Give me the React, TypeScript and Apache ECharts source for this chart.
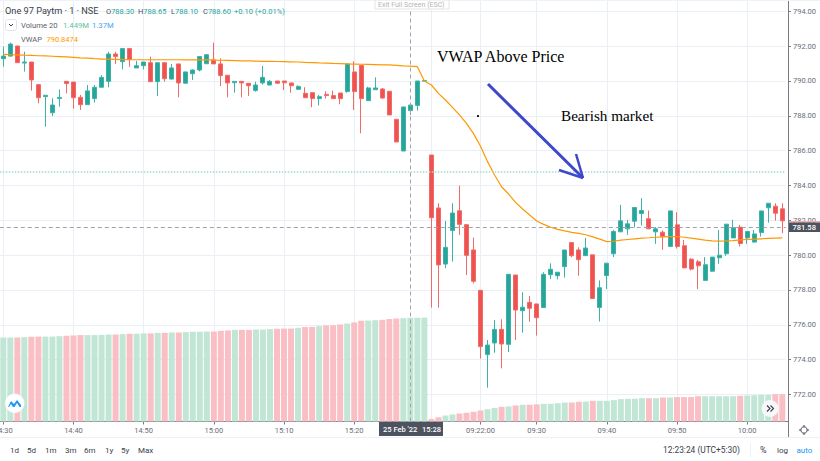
import React, { useEffect, useRef } from "react";
import * as echarts from "echarts";

const categories = [
  "14:30","14:31","14:32","14:33","14:34","14:35","14:36","14:37","14:38","14:39",
  "14:40","14:41","14:42","14:43","14:44","14:45","14:46","14:47","14:48","14:49",
  "14:50","14:51","14:52","14:53","14:54","14:55","14:56","14:57","14:58","14:59",
  "15:00","15:01","15:02","15:03","15:04","15:05","15:06","15:07","15:08","15:09",
  "15:10","15:11","15:12","15:13","15:14","15:15","15:16","15:17","15:18","15:19",
  "15:20","15:21","15:22","15:23","15:24","15:25","15:26","15:27","15:28","15:29","15:30",
  "09:15","09:16","09:17","09:18","09:19","09:20","09:21","09:22","09:23","09:24",
  "09:25","09:26","09:27","09:28","09:29","09:30","09:31","09:32","09:33","09:34",
  "09:35","09:36","09:37","09:38","09:39","09:40","09:41","09:42","09:43","09:44",
  "09:45","09:46","09:47","09:48","09:49","09:50","09:51","09:52","09:53","09:54",
  "09:55","09:56","09:57","09:58","09:59","10:00","10:01","10:02","10:03","10:04","10:05",
];

// open, close, low, high
const candles = [
  [791.28,791.43,790.82,791.97],[791.43,792.12,791.40,792.20],[792.01,791.05,791.05,792.01],[791.03,791.09,790.54,791.68],
  [791.09,790.06,789.45,791.09],[789.79,789.04,788.72,789.83],[789.10,789.18,787.38,789.18],[788.18,788.62,787.99,789.01],
  [788.99,789.06,788.53,789.52],[789.98,789.85,789.29,789.98],[789.94,789.04,788.41,789.94],[789.06,788.64,788.34,789.20],
  [788.64,789.43,788.64,789.77],[788.99,789.64,788.76,789.77],[789.64,790.21,789.64,790.34],[789.98,791.55,789.64,791.68],
  [791.55,791.40,790.98,791.68],[791.11,791.86,790.67,791.86],[791.86,791.24,790.82,791.86],[790.75,790.88,790.75,791.15],
  [790.88,791.09,790.67,791.09],[791.05,789.96,789.96,791.40],[789.96,791.05,789.14,791.05],[791.05,790.13,789.96,791.05],
  [790.11,790.75,790.10,790.98],[790.98,789.89,789.06,790.98],[789.87,790.52,789.87,790.52],[790.42,790.63,790.06,790.67],
  [790.63,791.40,790.55,791.40],[790.99,791.51,790.99,791.55],[791.21,790.98,790.98,792.20],[790.98,790.31,789.71,791.30],
  [790.33,789.89,789.06,790.33],[789.90,789.98,789.33,789.98],[789.98,789.89,789.06,789.98],[789.87,789.73,789.14,789.87],
  [789.45,789.77,789.39,789.96],[789.89,790.21,789.79,790.86],[789.77,789.98,789.75,790.06],[790.00,789.87,789.87,790.00],
  [790.00,789.90,789.48,790.00],[789.89,789.73,789.33,789.89],[789.52,789.69,789.50,789.75],[789.29,789.04,789.04,789.64],
  [789.33,788.99,788.49,789.33],[788.99,789.10,788.60,789.20],[789.23,789.16,788.99,789.41],[789.16,788.99,788.99,789.45],
  [789.31,788.99,788.66,789.31],[789.39,790.98,789.33,790.98],[790.52,789.39,788.34,791.13],[790.90,788.99,787.00,790.90],
  [788.87,789.60,788.87,789.67],[789.50,789.60,789.50,790.21],[789.54,789.02,788.99,789.60],[789.41,788.05,788.05,789.41],
  [787.80,786.50,786.50,787.80],[785.98,788.51,785.98,788.51],[788.30,788.62,788.05,788.62],[788.60,790.00,788.30,790.00],
  [789.99,790.02,789.99,790.02],
  [785.75,782.15,776.99,785.75],[782.71,779.44,776.99,782.98],[779.49,780.45,779.25,781.96],[781.41,782.42,779.63,782.98],
  [782.55,781.77,781.16,783.99],[781.75,779.99,778.86,781.75],[780.30,778.50,778.38,781.01],[777.98,774.75,774.06,777.98],
  [774.29,774.84,772.39,775.13],[774.96,775.74,774.40,776.28],[775.74,774.90,773.50,776.32],[774.88,778.90,774.44,778.90],
  [778.86,776.85,775.13,778.86],[776.81,777.01,775.55,777.87],[777.29,776.95,776.18,777.66],[777.20,776.41,775.38,777.20],
  [776.99,778.90,776.99,779.02],[778.88,779.19,778.63,779.53],[778.82,779.02,778.61,779.02],[779.34,780.30,778.71,780.30],
  [780.72,779.97,779.88,780.72],[780.30,779.74,778.82,780.45],[779.97,780.41,779.97,780.99],[780.02,777.51,777.51,780.02],
  [777.00,778.13,776.19,778.55],[778.83,779.54,778.05,779.54],[780.08,781.36,779.89,781.45],[781.34,781.97,781.34,782.89],
  [781.51,781.80,781.17,782.03],[781.95,782.74,781.59,782.74],[782.39,782.56,781.70,783.27],[782.09,781.51,781.51,782.56],
  [781.34,781.51,780.65,781.61],[781.32,781.07,780.31,781.42],[780.50,782.54,780.50,782.54],[781.74,780.50,780.38,782.47],
  [780.54,779.27,779.25,780.88],[779.77,779.20,779.12,779.83],[779.62,779.39,778.05,779.73],[778.55,779.45,778.55,779.89],
  [779.08,779.89,779.04,779.89],[779.85,780.00,779.50,781.45],[780.08,781.78,779.96,781.78],[780.99,781.57,780.99,782.03],
  [781.61,780.67,780.50,781.74],[780.99,781.36,780.65,781.36],[780.75,781.22,780.73,781.45],[781.30,782.54,781.07,782.54],
  [782.72,782.98,781.87,782.98],[782.81,782.41,781.99,782.98],[782.66,781.97,781.26,782.98],
];

// in millions
const volumes = [
  4.51,4.51,4.51,4.53,4.55,4.56,4.56,4.56,4.58,4.60,4.62,4.64,4.64,4.64,4.65,4.67,4.67,4.69,4.71,4.71,
  4.73,4.73,4.76,4.76,4.78,4.78,4.80,4.82,4.82,4.83,4.83,4.87,4.89,4.92,4.92,4.92,4.94,4.94,4.96,4.98,
  4.99,4.99,5.03,5.07,5.08,5.12,5.16,5.17,5.21,5.26,5.32,5.41,5.42,5.44,5.46,5.50,5.53,5.55,5.57,5.57,5.58,
  0.14,0.23,0.32,0.38,0.43,0.47,0.52,0.59,0.66,0.73,0.79,0.81,0.86,0.90,0.90,0.92,0.95,0.95,0.98,1.02,
  1.02,1.06,1.07,1.11,1.11,1.11,1.15,1.20,1.22,1.22,1.25,1.25,1.25,1.29,1.29,1.31,1.31,1.31,1.36,1.36,
  1.36,1.36,1.36,1.36,1.38,1.40,1.41,1.43,1.43,1.47,1.47,
];

const vwap = [
  791.53,791.51,791.50,791.48,791.47,791.45,791.44,791.42,791.40,791.38,791.36,791.33,791.31,791.28,791.26,791.25,
  791.24,791.23,791.22,791.22,791.22,791.22,791.22,791.22,791.22,791.22,791.21,791.21,791.21,791.21,791.20,791.19,
  791.18,791.17,791.16,791.15,791.14,791.13,791.13,791.12,791.11,791.10,791.09,791.07,791.06,791.04,791.03,791.01,
  791.00,790.98,790.97,790.96,790.95,790.94,790.93,790.92,790.90,790.87,790.85,790.82,790.00,
  789.77,789.29,788.91,788.49,788.05,787.57,786.98,786.25,785.37,784.60,783.93,783.51,783.03,782.65,782.31,781.96,
  781.77,781.60,781.48,781.39,781.31,781.25,781.17,781.05,780.92,780.78,780.80,780.86,780.90,780.94,780.98,781.00,
  781.03,781.05,781.07,781.07,781.03,780.98,780.92,780.86,780.82,780.81,780.82,780.84,780.88,780.90,780.92,780.94,
  780.96,780.98,780.99,
];

const priceTicks = [772,774,776,778,780,782,784,786,788,790,792,794];
const timeLabels = ["14:30","14:40","14:50","15:00","15:10","15:20","09:22","09:30","09:40","09:50","10:00"];
const sessionStart = "09:15";
const crosshairTime = "15:28";
const crosshairPrice = 781.58;
const priorLevel = 784.78;

const rangeButtons: [string, number][] = [["1d",10],["5d",27],["1m",45],["3m",65],["6m",84],["1y",105],["5y",121],["Max",138]];

const GREEN = "#26a69a";
const RED = "#ef5350";
const FONT = "Roboto";
const SERIF = "'Liberation Serif'";

function txt(x: number, y: number, text: string, fontSize: number, fill: string, extra: any = {}) {
  return { type: "text", x, y, z: 100, silent: true,
    style: { text, fontSize, fill, fontFamily: FONT, verticalAlign: "middle", ...extra } };
}
function seg(x1: number, y1: number, x2: number, y2: number, stroke: string, lineWidth = 1, z = 90) {
  return { type: "line", z, silent: true, shape: { x1, y1, x2, y2 }, style: { stroke, lineWidth } };
}

export default function App() {
  const ref = useRef<HTMLDivElement>(null);
  useEffect(() => {
    const chart = echarts.init(ref.current!, undefined, { renderer: "svg" });
    const showTick = (_: number, v: string) => timeLabels.includes(v) || v === sessionStart;
    const ohlcRich = {
      a: { fontSize: 7.5, fill: "#4c525e", fontFamily: FONT },
      b: { fontSize: 7.5, fill: GREEN, fontFamily: FONT },
    };
    const ohlc = (x: number, k: string, v: string) => ({
      type: "text", x, y: 11, z: 100, silent: true,
      style: { text: `{a|${k}}{b|${v}}`, rich: ohlcRich, verticalAlign: "middle" },
    });
    chart.setOption({
      animation: false,
      backgroundColor: "#fff",
      grid: { left: -0.2, top: 0, width: 786, height: 421.5, containLabel: false, outerBoundsMode: "none" },
      xAxis: {
        type: "category",
        data: categories,
        boundaryGap: true,
        axisLine: { lineStyle: { color: "#787b86", width: 1 } },
        axisTick: { show: true, interval: showTick, alignWithLabel: true, length: 3, lineStyle: { color: "#787b86" } },
        axisLabel: {
          interval: (_: number, v: string) => timeLabels.includes(v),
          formatter: (v: string) => (v === "09:22" ? "09:22:00" : v),
          fontSize: 7.5, color: "#6a6d78", fontFamily: FONT, margin: 5, hideOverlap: false,
        },
        splitLine: { show: true, interval: showTick, alignWithLabel: true, lineStyle: { color: "#eaeff6", width: 1 } },
      },
      yAxis: [
        {
          type: "value",
          position: "right",
          offset: 2.2,
          min: 770.45,
          max: 794.65,
          axisLine: { show: true, onZero: false, lineStyle: { color: "#787b86" } },
          axisTick: { show: true, length: 3, customValues: priceTicks, lineStyle: { color: "#787b86" } },
          axisLabel: { customValues: priceTicks, formatter: (v: number) => v.toFixed(2), fontSize: 7.5, color: "#6a6d78", fontFamily: FONT, margin: 5 },
          splitLine: { show: true, lineStyle: { color: "#eaeff6", width: 1 } },
        },
        { type: "value", min: 0, max: 22.63, show: false, splitLine: { show: false } },
      ],
      series: [
        {
          type: "bar",
          name: "Volume",
          yAxisIndex: 1,
          barWidth: 6,
          itemStyle: { color: "#c2e6d5" },
          data: volumes.map((v, i) => ({
            value: v,
            itemStyle: { color: candles[i][1] >= candles[i][0] ? "#c2e6d5" : "#fabfc4" },
          })),
          z: 1,
        },
        {
          type: "candlestick",
          name: "Price",
          barWidth: 4.5,
          itemStyle: { color: GREEN, color0: RED, borderColor: "#3fb2a7", borderColor0: "#f16a67", borderWidth: 1 },
          data: candles,
          z: 3,
        },
        {
          type: "line",
          name: "VWAP",
          data: vwap,
          showSymbol: false,
          symbol: "none",
          lineStyle: { color: "#ff9800", width: 1.2 },
          z: 4,
          markLine: {
            silent: true,
            symbol: "none",
            label: { show: false },
            animation: false,
            data: [
              { yAxis: priorLevel, lineStyle: { color: "#a5dad3", width: 1.5, type: "dotted" } },
              { yAxis: crosshairPrice, lineStyle: { color: "#a0a3ad", width: 1, type: [4, 3] } },
              { xAxis: crosshairTime, lineStyle: { color: "#a0a3ad", width: 1, type: [4, 3] } },
            ],
          },
        },
      ],
      graphic: [
        seg(0, 0.5, 820, 0.5, "#eff2f7"),
        seg(0, 437.5, 820, 437.5, "#eef0f3"),
        seg(785, 421.5, 788, 421.5, "#787b86"),
        seg(788.5, 421, 788.5, 437, "#787b86"),
        seg(750.5, 443, 750.5, 457, "#eef0f3"),

        // exit full screen hint
        { type: "rect", z: 95, silent: true, shape: { x: 375, y: 0, width: 74, height: 9 }, style: { fill: "#fff", stroke: "#e4e4e4", lineWidth: 1 } },
        txt(378, 5, "Exit Full Screen (ESC)", 7, "#b5b5b5"),

        // header
        txt(5, 10.5, "One 97 Paytm · 1 · NSE", 9.2, "#3a3e4c"),
        ohlc(106, "O", "788.30"),
        ohlc(138, "H", "788.65"),
        ohlc(171, "L", "788.10"),
        ohlc(203, "C", "788.60"),
        txt(234, 11, "+0.10 (+0.01%)", 7.6, GREEN),
        { type: "rect", z: 95, silent: true, shape: { x: 5.5, y: 19.5, width: 11, height: 11, r: 2 }, style: { fill: "#fff", stroke: "#e0e3eb", lineWidth: 1 } },
        { type: "polyline", z: 100, silent: true, shape: { points: [[9, 24], [11, 26], [13, 24]] }, style: { stroke: "#3a3e4c", lineWidth: 1, fill: "none" } },
        txt(21, 25, "Volume 20", 7.7, "#5d606b"),
        txt(63, 25, "1.449M", 7.7, "#5cbf9b"),
        txt(92, 25, "1.37M", 7.7, "#42a5f5"),
        txt(21, 39, "VWAP", 7.5, "#5d606b"),
        txt(46.5, 39, "790.8474", 7.5, "#ff9800"),

        // annotations
        { type: "text", z: 110, x: 437, y: 56, silent: true, style: { text: "VWAP Above Price", fontFamily: SERIF, fontSize: 16, fill: "#000", verticalAlign: "middle" } },
        { type: "text", z: 110, x: 561, y: 115, silent: true, style: { text: "Bearish market", fontFamily: SERIF, fontSize: 15.2, fill: "#000", verticalAlign: "middle" } },
        seg(488, 84, 583, 178, "#3f48cc", 3, 110),
        seg(576, 154, 583, 178, "#3f48cc", 2.5, 110),
        seg(559, 170, 583, 178, "#3f48cc", 2.5, 110),
        { type: "rect", z: 110, silent: true, shape: { x: 477, y: 115, width: 2, height: 2 }, style: { fill: "#222" } },

        // crosshair labels
        { type: "rect", z: 95, silent: true, shape: { x: 789, y: 221, width: 31, height: 1.5 }, style: { fill: "#f7a9a7" } },
        { type: "rect", z: 96, silent: true, shape: { x: 789, y: 222.5, width: 31, height: 9.5 }, style: { fill: "#4c525e" } },
        txt(792.5, 227.5, "781.58", 7.5, "#fff", { fontWeight: 500 }),
        { type: "rect", z: 96, silent: true, shape: { x: 379, y: 422, width: 64, height: 14 }, style: { fill: "#4c525e" } },
        txt(383, 429.5, "25 Feb '22", 7.5, "#fff", { fontWeight: 500 }),
        txt(422, 429.5, "15:28", 7.5, "#fff", { fontWeight: 500 }),

        // logo
        { type: "circle", z: 100, silent: true, shape: { cx: 14.7, cy: 403.3, r: 9.6 }, style: { fill: "#fff", stroke: "#eceff4", lineWidth: 0.5 } },
        { type: "polygon", z: 101, silent: true, shape: { points: [[8, 407], [11, 401], [14, 404], [17, 400], [21, 405], [21, 407]] }, style: { fill: "#2196f3" } },
        { type: "polygon", z: 102, silent: true, shape: { points: [[11, 404], [13, 407], [9, 407]] }, style: { fill: "#fff" } },
        { type: "polygon", z: 102, silent: true, shape: { points: [[17, 403], [19.5, 407], [14.5, 407]] }, style: { fill: "#fff" } },

        // go to realtime
        { type: "circle", z: 100, silent: true, shape: { cx: 770, cy: 408.5, r: 8.5 }, style: { fill: "#f6f7f9" } },
        { type: "polyline", z: 101, silent: true, shape: { points: [[767, 405.5], [770, 408.5], [767, 411.5]] }, style: { stroke: "#3a3e4c", lineWidth: 1.1, fill: "none" } },
        { type: "polyline", z: 101, silent: true, shape: { points: [[770.5, 405.5], [773.5, 408.5], [770.5, 411.5]] }, style: { stroke: "#3a3e4c", lineWidth: 1.1, fill: "none" } },

        // gear
        { type: "circle", z: 100, silent: true, shape: { cx: 804, cy: 430, r: 3.2 }, style: { fill: "#fff", stroke: "#3a3e4c", lineWidth: 1 } },
        seg(804, 425, 804, 426.5, "#3a3e4c", 1, 100),
        seg(804, 433.5, 804, 435, "#3a3e4c", 1, 100),
        seg(799, 430, 800.5, 430, "#3a3e4c", 1, 100),
        seg(807.5, 430, 809, 430, "#3a3e4c", 1, 100),

        // footer
        ...rangeButtons.map(([label, x]) => txt(x, 450, label, 8, "#3a3e4c")),
        txt(663, 450, "12:23:24 (UTC+5:30)", 8.4, "#3a3e4c"),
        txt(760, 450, "%", 9, "#3a3e4c"),
        txt(777, 450, "log", 8, "#3a3e4c"),
        txt(796.5, 450, "auto", 8, "#2196f3"),
      ],
    });
    return () => chart.dispose();
  }, []);
  return <div ref={ref} style={{ position: "absolute", left: 0, top: 0, width: 820, height: 461 }} />;
}
